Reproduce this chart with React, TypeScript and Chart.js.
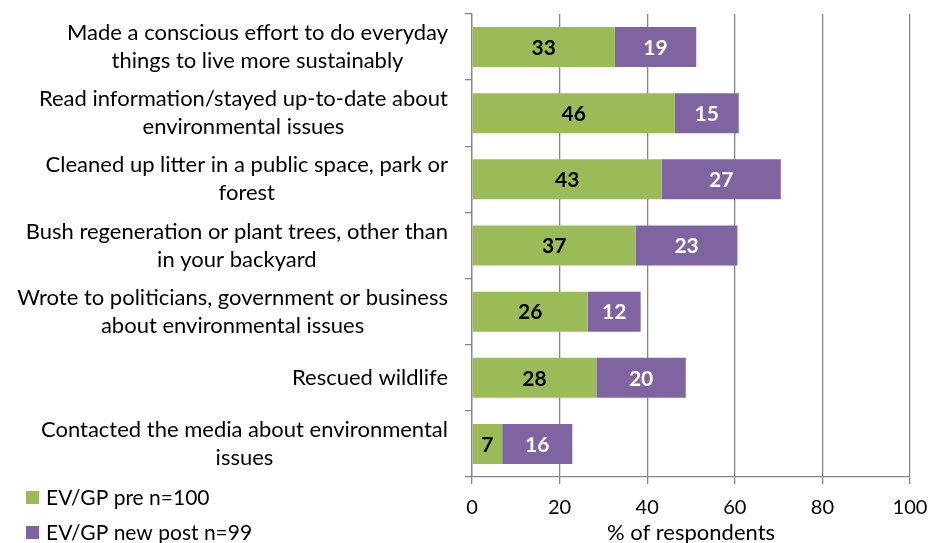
import React, { useEffect, useRef } from "react";
import { Chart, registerables } from "chart.js";

Chart.register(...registerables);

const categories: string[][] = [
  ["Made a conscious effort to do everyday", "things to live more sustainably"],
  ["Read information/stayed up-to-date about", "environmental issues"],
  ["Cleaned up litter in a public space, park or", "forest"],
  ["Bush regeneration or plant trees, other than", "in your backyard"],
  ["Wrote to politicians, government or business", "about environmental issues"],
  ["Rescued wildlife"],
  ["Contacted the media about environmental", "issues"],
];

const preValues = [32.6, 46.3, 43.3, 37.4, 26.4, 28.4, 6.9];
const postValues = [18.6, 14.6, 27.2, 23.2, 12.1, 20.4, 16.0];

const seriesNames = ["EV/GP pre n=100", "EV/GP new post n=99"];
const xTicks = [0, 20, 40, 60, 80, 100];
const xTitle = "% of respondents";

const GREEN = "#9BBB59";
const PURPLE = "#8064A2";
const GRID = "#868686";
const FONT = "Lato";

const yLabelPlugin = {
  id: "yLabels",
  afterDraw(chart: any) {
    const ctx = chart.ctx;
    const y = chart.scales.y;
    const rightEdge = chart.chartArea.left - 7 - 17;
    const lh = 28;
    ctx.save();
    ctx.font = `22px ${FONT}`;
    ctx.fillStyle = "#000";
    ctx.textBaseline = "middle";
    ctx.textAlign = "center";
    categories.forEach((lines, i) => {
      const cy = y.getPixelForValue(i);
      const w = Math.max(...lines.map((l) => ctx.measureText(l).width));
      const cx = rightEdge - w / 2;
      const start = cy - ((lines.length - 1) * lh) / 2;
      lines.forEach((l, j) => ctx.fillText(l, cx, start + j * lh));
    });
    ctx.restore();
  },
};

const dataLabelPlugin = {
  id: "dataLabels",
  afterDatasetsDraw(chart: any) {
    const ctx = chart.ctx;
    ctx.save();
    ctx.font = `bold 21px ${FONT}`;
    ctx.textAlign = "center";
    ctx.textBaseline = "middle";
    chart.data.datasets.forEach((ds: any, di: number) => {
      const meta = chart.getDatasetMeta(di);
      ctx.fillStyle = di === 0 ? "#000" : "#fff";
      meta.data.forEach((bar: any, i: number) => {
        const v = ds.data[i];
        const cx = (bar.x + bar.base) / 2;
        ctx.fillText(String(Math.round(v)), cx, bar.y + 1);
      });
    });
    ctx.restore();
  },
};

const legendPlugin = {
  id: "customLegend",
  afterDraw(chart: any) {
    const ctx = chart.ctx;
    const colors = [GREEN, PURPLE];
    const rows = [497, 532];
    ctx.save();
    ctx.font = `21px ${FONT}`;
    ctx.textBaseline = "middle";
    ctx.textAlign = "left";
    seriesNames.forEach((name, i) => {
      ctx.fillStyle = colors[i];
      ctx.fillRect(26, rows[i] - 6, 13, 13);
      ctx.fillStyle = "#000";
      ctx.fillText(name, 46, rows[i] + 1);
    });
    ctx.restore();
  },
};

export default function App() {
  const ref = useRef<HTMLCanvasElement>(null);
  useEffect(() => {
    if (!ref.current) return;
    const chart = new Chart(ref.current, {
      type: "bar",
      data: {
        labels: categories.map((c) => c.join(" ")),
        datasets: [
          {
            label: seriesNames[0],
            data: preValues,
            backgroundColor: GREEN,
            categoryPercentage: 1,
            barPercentage: 0.605,
          },
          {
            label: seriesNames[1],
            data: postValues,
            backgroundColor: PURPLE,
            categoryPercentage: 1,
            barPercentage: 0.605,
          },
        ],
      },
      options: {
        indexAxis: "y",
        responsive: false,
        animation: false,
        layout: { padding: { top: 14, right: 21, bottom: 0, left: 0 } },
        plugins: {
          legend: { display: false },
          tooltip: { enabled: false },
        },
        scales: {
          x: {
            stacked: true,
            min: 0,
            max: 100,
            afterBuildTicks: (scale: any) => {
              scale.ticks = xTicks.map((v) => ({ value: v }));
            },
            afterFit: (scale: any) => {
              scale.height = 66;
              scale.paddingLeft = 0;
              scale.paddingRight = 0;
            },
            grid: { color: GRID, lineWidth: 1.3, tickLength: 7, drawTicks: true },
            border: { display: true, color: GRID, width: 1.3 },
            ticks: {
              color: "#000",
              font: { family: FONT, size: 20 },
              padding: 12,
              maxRotation: 0,
            },
            title: {
              display: true,
              text: xTitle,
              color: "#000",
              font: { family: FONT, size: 22 },
              padding: { top: 0, bottom: -3 },
            },
          },
          y: {
            stacked: true,
            afterFit: (scale: any) => {
              scale.width = 472;
            },
            grid: {
              drawOnChartArea: false,
              drawTicks: true,
              tickLength: 7,
              color: GRID,
              lineWidth: 1.3,
              offset: true,
            },
            border: { display: true, color: GRID, width: 1.3 },
            ticks: { display: false },
          },
        },
      },
      plugins: [yLabelPlugin, dataLabelPlugin, legendPlugin],
    } as any);
    return () => chart.destroy();
  }, []);
  return (
    <div style={{ position: "fixed", left: 0, top: 0, width: 931, height: 543, background: "#fff" }}>
      <canvas ref={ref} width={931} height={543} />
    </div>
  );
}
